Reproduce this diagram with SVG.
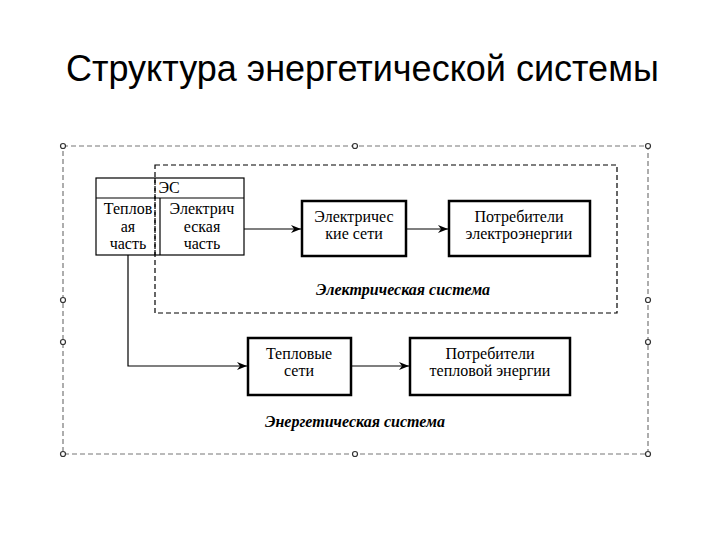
<svg xmlns="http://www.w3.org/2000/svg" width="720" height="540" viewBox="0 0 720 540">
<defs>
<marker id="ah" markerWidth="10" markerHeight="8" refX="10" refY="4" orient="auto" markerUnits="userSpaceOnUse">
<path d="M0,0 L10,4 L0,8 L3,4 Z" fill="#000"/>
</marker>
<style>
.title{font-family:"Liberation Sans",Arial,sans-serif;font-size:36px;fill:#000}
.t{font-family:"Liberation Serif","Times New Roman",serif;font-size:16px;fill:#000;text-anchor:middle}
.lbl{font-family:"Liberation Serif","Times New Roman",serif;font-size:16px;font-style:italic;font-weight:bold;fill:#000;text-anchor:middle}
.box{fill:#fff;stroke:#000;stroke-width:2.5}
.thin{fill:none;stroke:#000;stroke-width:1.2}
.frame{fill:none;stroke:#777;stroke-width:1.2;stroke-dasharray:5,3}
.inner{fill:none;stroke:#000;stroke-width:1.2;stroke-dasharray:5,3}
.h{fill:#fff;stroke:#333;stroke-width:1.2}
.conn{fill:none;stroke:#000;stroke-width:1.2}
</style>
</defs>
<rect width="720" height="540" fill="#fff"/>
<text class="title" x="66" y="81">Структура энергетической системы</text>
<g id="energy-system">
<rect class="frame" x="63" y="146" width="585" height="308"/>
<circle class="h" cx="63" cy="146" r="2.5"/>
<circle class="h" cx="355" cy="146" r="2.5"/>
<circle class="h" cx="648" cy="146" r="2.5"/>
<circle class="h" cx="63" cy="300" r="2.5"/>
<circle class="h" cx="648" cy="300" r="2.5"/>
<circle class="h" cx="63" cy="342" r="2.5"/>
<circle class="h" cx="648" cy="342" r="2.5"/>
<circle class="h" cx="63" cy="454" r="2.5"/>
<circle class="h" cx="355" cy="454" r="2.5"/>
<circle class="h" cx="648" cy="454" r="2.5"/>
<text class="lbl" x="355" y="427">Энергетическая система</text>
</g>
<g id="electric-system">
<rect class="inner" x="155" y="165" width="462" height="148"/>
<text class="lbl" x="403" y="295">Электрическая система</text>
</g>
<g id="es">
<rect class="thin" x="96" y="178" width="148" height="77" fill="#fff"/>
<line class="thin" x1="96" y1="198" x2="244" y2="198"/>
<line class="thin" x1="160" y1="198" x2="160" y2="255"/>
<line class="inner" x1="155" y1="178" x2="155" y2="255"/>
<text class="t" x="169" y="193">ЭС</text>
<text class="t" x="128" y="214">Теплов</text>
<text class="t" x="128" y="232">ая</text>
<text class="t" x="128" y="249">часть</text>
<text class="t" x="202" y="214">Электрич</text>
<text class="t" x="202" y="232">еская</text>
<text class="t" x="202" y="249">часть</text>
</g>
<g id="el-networks">
<rect class="box" x="302" y="201" width="104" height="55"/>
<text class="t" x="354" y="222">Электричес</text>
<text class="t" x="354" y="239">кие сети</text>
</g>
<g id="el-consumers">
<rect class="box" x="449" y="201" width="141" height="55"/>
<text class="t" x="519" y="222">Потребители</text>
<text class="t" x="519" y="239">электроэнергии</text>
</g>
<g id="heat-networks">
<rect class="box" x="248" y="338" width="103" height="57"/>
<text class="t" x="299" y="359">Тепловые</text>
<text class="t" x="299" y="376">сети</text>
</g>
<g id="heat-consumers">
<rect class="box" x="410" y="338" width="160" height="57"/>
<text class="t" x="490" y="359">Потребители</text>
<text class="t" x="490" y="376">тепловой энергии</text>
</g>
<g id="connectors">
<line class="conn" x1="244" y1="229" x2="301" y2="229" marker-end="url(#ah)"/>
<line class="conn" x1="406" y1="229" x2="448" y2="229" marker-end="url(#ah)"/>
<polyline class="conn" points="128,255 128,366 247,366" marker-end="url(#ah)"/>
<line class="conn" x1="351" y1="366" x2="409" y2="366" marker-end="url(#ah)"/>
</g>
</svg>
